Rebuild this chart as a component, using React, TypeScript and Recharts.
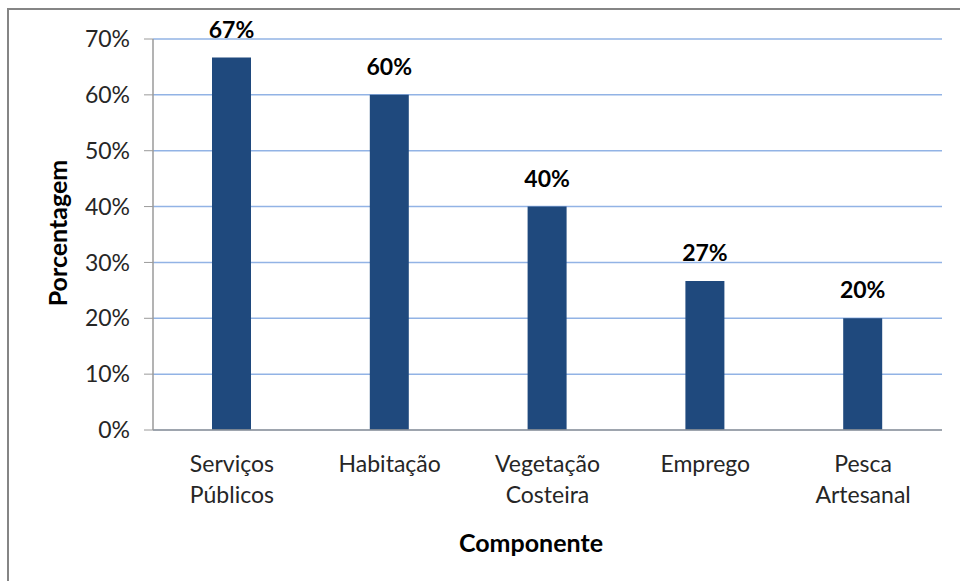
import { BarChart, Bar, XAxis, YAxis, CartesianGrid, LabelList } from 'recharts';

const categories = ['Serviços Públicos', 'Habitação', 'Vegetação Costeira', 'Emprego', 'Pesca Artesanal'];
const percentages = [66.67, 60, 40, 26.67, 20];
const yTicks = [0, 10, 20, 30, 40, 50, 60, 70];

const rows = categories.map((name, i) => ({ name, value: percentages[i] }));

const FONT = 'Lato, "Open Sans", sans-serif';

function CategoryTick({ x, y, payload }: any) {
  const words = String(payload.value).split(' ');
  return (
    <g>
      {words.map((w: string, i: number) => (
        <text
          key={i}
          x={x}
          y={y + 34 + i * 31}
          textAnchor="middle"
          fill="#262626"
          fontSize={23}
          fontFamily={FONT}
        >
          {w}
        </text>
      ))}
    </g>
  );
}

function ValueLabel({ x, y, width, value }: any) {
  return (
    <text
      x={x + width / 2}
      y={y - 20}
      textAnchor="middle"
      fill="#000"
      fontSize={23}
      fontWeight="bold"
      fontFamily={FONT}
    >
      {Math.round(value)}%
    </text>
  );
}

export default function App() {
  return (
    <div style={{ position: 'fixed', left: 0, top: 0, width: 960, height: 581, overflow: 'hidden', background: '#fff' }}>
      {/* outer frame, right and bottom edges fall outside the window */}
      <div
        style={{
          position: 'absolute',
          left: 7,
          top: 8,
          width: 1000,
          height: 700,
          borderTop: '2px solid #858585',
          borderLeft: '2px solid #858585',
        }}
      />
      <div style={{ position: 'absolute', left: 0, top: 0 }}>
        <BarChart
          width={960}
          height={581}
          data={rows}
          margin={{ top: 39, right: 18, left: 0, bottom: 0 }}
        >
          <CartesianGrid vertical={false} stroke="#92b3e5" strokeWidth={1.5} />
          <XAxis
            dataKey="name"
            height={151}
            interval={0}
            tickLine={false}
            axisLine={{ stroke: '#9a9a9a', strokeWidth: 1.5 }}
            tick={<CategoryTick />}
            label={{
              content: () => (
                <text x={531} y={552} textAnchor="middle" fontSize={25} fontWeight="bold" fontFamily={FONT} fill="#000">
                  Componente
                </text>
              ),
            }}
          />
          <YAxis
            width={153}
            domain={[0, 70]}
            ticks={yTicks}
            interval={0}
            tickSize={9}
            tickMargin={14}
            tickFormatter={(v) => `${v}%`}
            tick={{ fill: '#262626', fontSize: 23, fontFamily: FONT }}
            tickLine={{ stroke: '#9a9a9a' }}
            axisLine={{ stroke: '#9a9a9a', strokeWidth: 1.5 }}
            label={{
              content: () => (
                <text
                  x={67}
                  y={233}
                  transform="rotate(-90, 67, 233)"
                  textAnchor="middle"
                  fontSize={25}
                  fontWeight="bold"
                  fontFamily={FONT}
                  fill="#000"
                >
                  Porcentagem
                </text>
              ),
            }}
          />
          <Bar dataKey="value" fill="#1f497d" barSize={39} isAnimationActive={false}>
            <LabelList dataKey="value" content={<ValueLabel />} />
          </Bar>
        </BarChart>
      </div>
    </div>
  );
}
